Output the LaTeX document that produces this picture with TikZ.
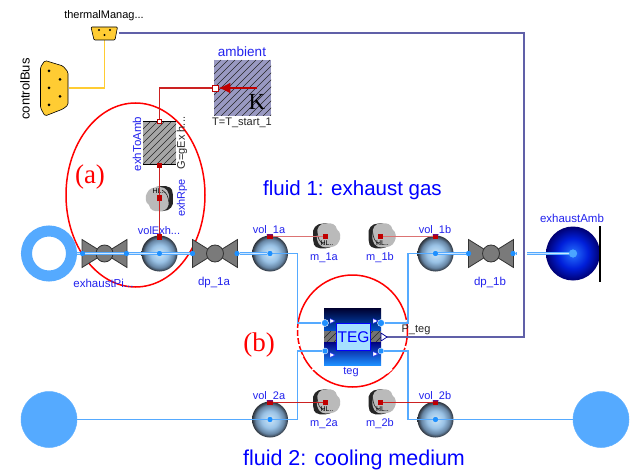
\documentclass[tikz,border=0pt]{standalone}
\usepackage{fontspec}
\setmainfont{Liberation Sans}
\newfontfamily\serifface{Liberation Serif}
\usetikzlibrary{arrows.meta,shapes.geometric}
\definecolor{pipeblue}{HTML}{55AAFF}
\definecolor{portblue}{HTML}{1E90FF}
\definecolor{busdark}{HTML}{6060A8}
\definecolor{busyellow}{HTML}{FFCC33}
\definecolor{heatred}{HTML}{C00000}
\definecolor{heatline}{HTML}{CC2222}
\definecolor{lbl}{HTML}{2222EE}
\pgfdeclareradialshading{volshade}{\pgfpoint{0bp}{0bp}}{rgb(0bp)=(0.80,0.90,0.97);rgb(12bp)=(0.60,0.76,0.90);rgb(20bp)=(0.40,0.52,0.64);rgb(25bp)=(0.17,0.19,0.22);rgb(50bp)=(0.17,0.19,0.22)}
\pgfdeclareradialshading{ambshade}{\pgfpoint{0bp}{0bp}}{rgb(0bp)=(0.15,0.45,1);rgb(14bp)=(0,0.12,0.85);rgb(25bp)=(0,0,0.45);rgb(50bp)=(0,0,0.45)}
\newcommand{\fs}[1]{\fontsize{#1}{#1}\selectfont}
\tikzset{
 lab/.style={font=\fs{11},text=lbl,inner sep=0pt},
 labk/.style={font=\fs{11},text=black!85,inner sep=0pt},
 big/.style={font=\fs{20.5},text=blue,inner sep=0pt},
 tag/.style={font=\serifface\fs{27},text=red,inner sep=0pt},
 ring/.style={draw=red,line width=1.5pt},
 pipe/.style={draw=pipeblue,line width=1.3pt},
 pipew/.style={draw=pipeblue,line width=2.6pt},
 pipec/.style={draw=white!70!pipeblue,line width=.8pt},
 heat/.style={draw=heatline,line width=1.2pt},
 heatsoft/.style={draw=heatred!55!white,line width=1.6pt},
 volball/.style={circle,minimum size=36pt,inner sep=0pt,shading=volshade},
 port/.style={circle,fill=portblue,minimum size=5pt,inner sep=0pt},
 tport/.style={circle,fill=portblue,draw=white,line width=.4pt,inner sep=0pt},
 hport/.style={rectangle,fill=heatred,minimum size=5.5pt,inner sep=0pt},
 wport/.style={rectangle,fill=white,draw=heatred,line width=.7pt,inner sep=0pt},
 valvebody/.style={draw=black!80,line width=.8pt,fill=black!52},
 filled/.style={circle,fill=pipeblue,draw=portblue!70!white,line width=.5pt,minimum size=56pt,inner sep=0pt},
 pics/valve/.style={code={
   \path[valvebody] (-22.5,-14) -- (22.5,14) -- (22.5,-14) -- (-22.5,14) -- cycle;
   \path[valvebody] (0,0) circle (8.5);
 }},
 pics/blob/.style={code={
   \fill[black!85] (-13,-1) .. controls (-14,-8) and (-10,-13) .. (-3,-13) .. controls (2,-14) and (6,-12) .. (4,-6)
      -- (4,11) .. controls (-3,13) and (-11,12) .. (-12,8) .. controls (-13,5) and (-13,2) .. (-13,-1) -- cycle;
   \fill[black!27] (-9,-2) .. controls (-9,-9) and (-7,-13) .. (0,-13) .. controls (6,-14) and (10,-12) .. (11,-7)
      .. controls (15,-5) and (15,2) .. (13,5) .. controls (11,10) and (6,11) .. (0,11) .. controls (-6,11) and (-10,6) .. (-9,-2) -- cycle;
   \draw[black!85,line width=.6pt] (-9,-5) .. controls (-8,2) and (-7,5) .. (-2,8);
   \node[font=\fs{7},text=black,inner sep=0pt] at (1,6.5) {HL..};
 }},
}
\newcommand{\volume}[3]{\node[volball] (#1) at (#2,#3) {};}
% \hatchbox{x1}{y1}{x2}{y2}{spacing}: diagonal lines clipped to a rectangle
\newcommand{\hatchbox}[5]{%
 \begin{scope}
  \clip (#1,#2) rectangle (#3,#4);
  \pgfmathsetmacro{\hh}{#4-#2}
  \pgfmathsetmacro{\ww}{#3-#1+#4-#2}
  \foreach \d in {0,#5,...,\ww}{
    \draw[black!85,line width=.65pt] ({#1+\d-\hh},#4) -- ({#1+\d},#2);
  }
 \end{scope}}
\begin{document}
\begin{tikzpicture}[x=1pt,y=-1pt]
\useasboundingbox (0,0) rectangle (634,473);
\fill[white] (0,0) rectangle (634,473);

% red rings
\draw[ring] (135.5,195) ellipse [x radius=69.5,y radius=92];
\draw[ring] (352.5,331) ellipse [x radius=55,y radius=56];
\draw[white,line width=1.6pt] (295,329) -- (300,329) (295,337) -- (300,337) (295,345) -- (300,345) (297,358) -- (303,356) (402,346) -- (409,348) (403,322) -- (409,320) (312,370) -- (317,366) (392,369) -- (387,373);

% buses
\node[inner sep=0pt,minimum width=28pt,minimum height=14pt] (thermal) at (104.5,33) {};
\node[inner sep=0pt,minimum width=28pt,minimum height=56pt] (cbus) at (54.5,88) {};
\node[labk,text=black] (thermallab) at (104,16) {thermalManag...};
\node[labk,text=black,rotate=90,font=\fs{13}] (cbuslab) at (25,89) {controlBus};
\coordinate (tegout) at (381,337);
\draw[busyellow,line width=1.5pt] (cbus.east) -- (104.5,88) -- (thermal.south);
\draw[busdark,line width=1.2pt] (thermal.east) -- (524,33) -- (524,337) -- (tegout);
\path[draw=black,line width=.6pt,fill=busyellow,rounded corners=1pt] (91,27) -- (117.5,27) -- (115,40) -- (94,40) -- cycle;
\foreach \p in {(99,30),(110,30),(104.5,35)} \fill[black] \p circle (1.1);
\path[draw=black,line width=.6pt,fill=busyellow,rounded corners=1.5pt] (40.5,67) -- (45,60.5) -- (63,66) -- (68,72) -- (68,105) -- (63,109) -- (45,116) -- (40.5,108) -- cycle;
\foreach \p in {(49,71),(60,79.5),(49,88),(60,96.5),(49,105)} \fill[black] \p circle (1.5);

% ambient
\node[inner sep=0pt,minimum width=57pt,minimum height=56pt,fill=blue!40!black!40!white] (ambient) at (242.5,88) {};
\hatchbox{214}{60}{271}{116}{7}
\node[lab,font=\fs{13.5}] (ambientlab) at (242,52) {ambient};
\node[font=\serifface\fs{23},inner sep=0pt] (k) at (257,102) {K};
\node[labk] (tlab) at (242,123) {T=T\_start\_1};
\coordinate (ambtail) at (257,88);
\node[wport,minimum size=6pt] (ambport) at (215,88) {};
\node[inner sep=0pt,minimum width=33pt,minimum height=42pt,fill=black!35] (exhToAmb) at (159.5,143) {};
\hatchbox{143}{122}{176}{164}{7}
\draw[black,line width=1.1pt] (exhToAmb.north west) -- (exhToAmb.north east) (exhToAmb.south west) -- (exhToAmb.south east);
\draw[heatred,line width=2pt,-{Latex[length=12pt,width=11pt]}] (ambtail) -- (ambport.east);
\node[wport,minimum size=4.5pt] (toambtop) at (159.5,121.5) {};
\node[hport,minimum size=5pt] (toambbot) at (159.5,165.5) {};
\draw[heat] (ambport.west) -- (159.5,88) -- (toambtop.north);
\node[lab,rotate=90,font=\fs{11.5}] (toamblab) at (137,144) {exhToAmb};
\node[labk,rotate=90] (glab) at (182,143) {G=gEx h...};
\pic[rotate=180] at (160,198) {blob};
\node[lab,rotate=90] (rpelab) at (182,198) {exhRpe};

% components, exhaust side
\node[circle,draw=pipeblue,line width=11pt,minimum size=45pt,inner sep=0pt] (source1) at (49,253.5) {};
\pic at (104.5,253.5) {valve};
\pic at (215,253.5) {valve};
\pic at (491,253.5) {valve};
\volume{volExh}{159.5}{253.5}
\volume{vol1a}{270}{253.5}
\volume{vol1b}{435.5}{253.5}
\volume{vol2a}{270}{419.5}
\volume{vol2b}{435.5}{419.5}
\node[circle,minimum size=54pt,inner sep=0pt,shading=ambshade] (exhaustAmb) at (573,253.5) {};
\draw[black,line width=2.6pt] (600,226) -- (600,282);
\node[port] (p1) at (82.5,253.5) {};
\node[port] (p2) at (126.5,253.5) {};
\node[port] (p3) at (159.5,253.5) {};
\node[port] (p4) at (192.5,253.5) {};
\node[port] (p5) at (237,253.5) {};
\node[port] (p6) at (270,253.5) {};
\node[port] (p7) at (435.5,253.5) {};
\node[port] (p8) at (468.5,253.5) {};
\node[port] (p9) at (513,253.5) {};
\node[circle,fill=portblue!80!white,minimum size=8pt,inner sep=0pt] (p10) at (573,253.5) {};
\node[port] (p11) at (270,419.5) {};
\node[port] (p12) at (435.5,419.5) {};
\node[filled] (source2) at (49,419.5) {};
\node[filled] (sink2) at (601,419.5) {};

% TEG
\node[inner sep=0pt,minimum width=57pt,minimum height=57pt] (teg) at (352.5,336.5) {};
\shade[top color=black!70!blue!60!black,bottom color=blue!60!cyan!80!black] (324,308) rectangle (381,331);
\shade[top color=blue!50!black,bottom color=portblue] (324,342) rectangle (381,365);
\fill[black!55] (324,331) rectangle (381,342);
\hatchbox{324}{331}{381}{342}{7}
\node[draw=blue,line width=.9pt,fill=blue!35!cyan!35!white,minimum width=34pt,minimum height=27pt,inner sep=0pt,text=blue,font=\fs{15.5}] (tegbox) at (353.5,337) {TEG};
\node[tport,minimum size=7pt] (a1) at (325,323) {};
\node[tport,minimum size=7pt] (b1) at (381,323) {};
\node[tport,minimum size=6pt] (a2) at (325,351) {};
\node[tport,minimum size=6pt] (b2) at (381,351) {};
\foreach \p in {(332,321),(375,321),(332,355),(375,354)}
  \path[fill=white,draw=blue,line width=.3pt] \p ++(-2,-2.5) -- ++(5,2.5) -- ++(-5,2.5) -- cycle;
\path[fill=white,draw=blue!60!black,line width=.7pt] (381,333) -- (387,337) -- (381,341) -- cycle;
\node[lab] (teglab) at (351,372) {teg};
\node[labk] (pteg) at (416,329.5) {P\_teg};

% fluid connectors
\foreach \a/\b in {p1/p2,p2/p3,p3/p4,p5/p6,p7/p8}{
  \draw[pipew] (\a) -- (\b);
  \draw[pipec] (\a) -- (\b);
}
\draw[pipew] (source1.east) -- (p1);
\draw[pipec] (source1.east) -- (p1);
\draw[pipe,line width=1.6pt] (p6) -- (297.5,253.5) -- (297.5,323) -- (a1);
\draw[pipe,line width=1.6pt] (b1) -- (408,323) -- (408,253.5) -- (p7);
\draw[pipe] (a2) -- (297.5,351) -- (297.5,419.5) -- (p11);
\draw[pipe] (p11) -- (source2.east);
\draw[pipe] (b2) -- (408,351) -- (408,419.5) -- (p12);
\draw[pipe] (p12) -- (sink2.west);
\draw[white,line width=3pt] (517,253.5) -- (527,253.5);
\draw[busdark,line width=1.2pt] (524,248) -- (524,259);
\draw[pipew] (p9) -- (517,253.5);
\draw[pipew] (527,253.5) -- (p10);
\draw[pipec] (527,253.5) -- (p10);
\foreach \n in {p1,p2,p3,p4,p5,p6,p7,p8,p9,p11,p12}{\node[port] at (\n) {};}
\node[circle,fill=portblue!80!white,minimum size=8pt,inner sep=0pt] at (573,253.5) {};

% mass flow sensors
\pic at (326,236.5) {blob};
\pic at (381.5,236.5) {blob};
\pic at (326,402.5) {blob};
\pic at (381.5,402.5) {blob};

% heat ports and heat connectors
\node[hport] (hExh) at (159.5,237) {};
\node[hport] (hRpe) at (159.5,198) {};
\node[hport] (h1a) at (270,236.5) {};
\node[hport] (hm1a) at (325.5,236.5) {};
\node[hport] (hm1b) at (380.5,236.5) {};
\node[hport] (h1b) at (435.5,236.5) {};
\node[hport] (h2a) at (270,402.5) {};
\node[hport] (hm2a) at (325.5,402.5) {};
\node[hport] (hm2b) at (380.5,402.5) {};
\node[hport] (h2b) at (435.5,402.5) {};
\draw[heat] (toambbot) -- (hRpe);
\draw[heat] (hRpe) -- (hExh);
\draw[heatsoft] (h1a) -- (hm1a);
\draw[heatsoft] (hm1b) -- (h1b);
\draw[heat] (h2a) -- (hm2a);
\draw[heat] (hm2b) -- (h2b);

% labels
\node[lab,font=\fs{11.5}] (l1) at (103.5,283) {exhaustPi...};
\node[lab] (l2) at (159,231) {volExh...};
\node[lab,font=\fs{11.5}] (l3) at (214,283) {dp\_1a};
\node[lab] (l4) at (269,231) {vol\_1a};
\node[lab] (l5) at (324,258) {m\_1a};
\node[lab] (l6) at (380,258) {m\_1b};
\node[lab] (l7) at (435,231) {vol\_1b};
\node[lab,font=\fs{11.5}] (l8) at (490,283) {dp\_1b};
\node[lab,font=\fs{11.5}] (l9) at (572,218) {exhaustAmb};
\node[lab] (l10) at (269,397) {vol\_2a};
\node[lab] (l11) at (324,424) {m\_2a};
\node[lab] (l12) at (380,424) {m\_2b};
\node[lab] (l13) at (435,397) {vol\_2b};
\node[big] (f1) at (352.5,190) {fluid 1: exhaust gas};
\node[big,font=\fs{21.5}] (f2) at (354,460) {fluid 2: cooling medium};
\node[tag] (ta) at (90,177) {(a)};
\node[tag] (tb) at (259,345) {(b)};
\end{tikzpicture}
\end{document}
